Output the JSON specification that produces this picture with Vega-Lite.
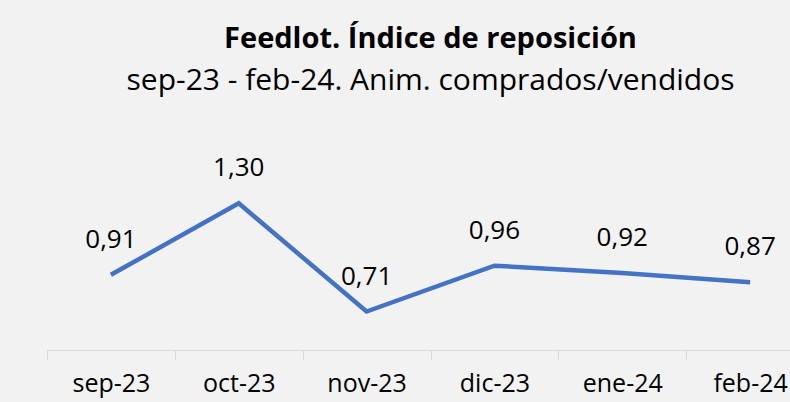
{
  "$schema": "https://vega.github.io/schema/vega-lite/v6.json",
  "autosize": {"type": "none"},
  "width": 767,
  "height": 220,
  "padding": {"left": 47, "top": 130, "right": 0, "bottom": 52},
  "background": "#F2F2F2",
  "title": {
    "text": "Feedlot. Índice de reposición",
    "subtitle": "sep-23 - feb-24. Anim. comprados/vendidos",
    "anchor": "middle",
    "font": "Open Sans",
    "fontSize": 29,
    "fontWeight": "bold",
    "color": "#000000",
    "subtitleFont": "Open Sans",
    "subtitleFontSize": 30,
    "subtitleColor": "#000000",
    "subtitlePadding": 12,
    "offset": 34
  },
  "data": {"values": [
    {"mes": "sep-23", "indice": 0.91},
    {"mes": "oct-23", "indice": 1.30},
    {"mes": "nov-23", "indice": 0.71},
    {"mes": "dic-23", "indice": 0.96},
    {"mes": "ene-24", "indice": 0.92},
    {"mes": "feb-24", "indice": 0.87}
  ]},
  "encoding": {
    "x": {
      "field": "mes", "type": "nominal", "sort": null,
      "scale": {"type": "band", "paddingInner": 0, "paddingOuter": 0},
      "axis": {
        "title": null, "labelAngle": 0, "tickBand": "extent",
        "domainColor": "#D9D9D9", "tickColor": "#D9D9D9", "tickSize": 9,
        "labelFont": "Open Sans", "labelFontSize": 25, "labelColor": "#000000",
        "labelFontWeight": "normal", "labelPadding": 12
      }
    },
    "y": {
      "field": "indice", "type": "quantitative",
      "scale": {"domain": [0.5, 1.7], "zero": false},
      "axis": null
    }
  },
  "layer": [
    {"mark": {"type": "line", "color": "#4472C4", "strokeWidth": 4.5}},
    {
      "mark": {"type": "text", "font": "Open Sans", "fontSize": 26, "color": "#000000", "baseline": "middle", "dy": -35},
      "encoding": {"text": {"field": "indice", "type": "quantitative", "format": ".2f"}}
    }
  ],
  "config": {
    "view": {"stroke": null},
    "locale": {"number": {"decimal": ",", "thousands": ".", "grouping": [3], "currency": ["$", ""]}}
  }
}
